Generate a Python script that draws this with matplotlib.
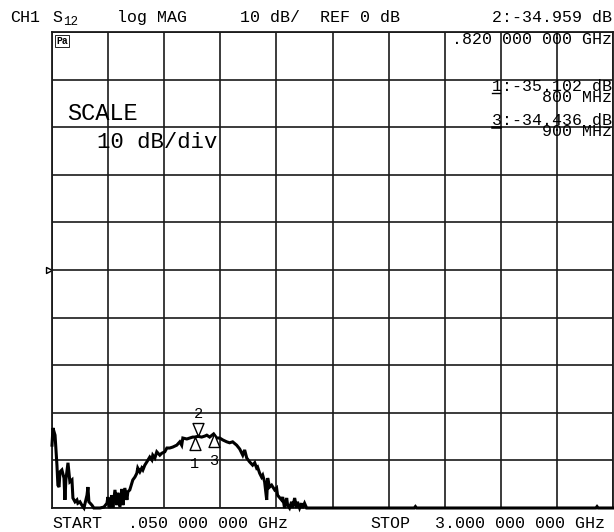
import numpy as np
import matplotlib
matplotlib.use("Agg")
import matplotlib.pyplot as plt
from matplotlib.path import Path
from matplotlib.lines import Line2D
from matplotlib.transforms import blended_transform_factory

plt.rcParams['font.family'] = ['Liberation Mono', 'DejaVu Sans Mono']

# S12 trace (MHz, dB); values below the screen are clipped at -50 dB
freq_mhz = [50, 55, 66, 76, 81, 87, 92, 102, 113, 118, 123, 134, 144, 155, 160, 171,
            181, 186, 197, 207, 218, 234, 239, 244, 260, 270, 302, 323, 339, 344, 354,
            365, 370, 381, 391, 396, 407, 417, 423, 433, 444, 449, 459, 470, 475, 486,
            496, 501, 512, 522, 528, 538, 549, 564, 575, 580, 591, 601, 617, 627, 643,
            654, 669, 685, 706, 722, 732, 738, 759, 774, 790, 800, 811, 820, 837, 853,
            864, 879, 900, 916, 932, 948, 969, 984, 1000, 1021, 1037, 1053, 1063, 1074,
            1089, 1105, 1116, 1126, 1131, 1142, 1152, 1158, 1168, 1179, 1184, 1194, 1205,
            1221, 1231, 1236, 1257, 1263, 1273, 1284, 1289, 1299, 1310, 1315, 1326, 1336,
            1341, 1352, 1362, 1367, 1378, 1389, 1500, 1955, 1961, 1967, 2910, 2916, 2922,
            3000]
s12_db = [-36.8, -33.2, -34.7, -41.0, -45.2, -45.6, -42.4, -42.0, -43.7, -48.3, -44.1,
          -40.5, -44.5, -44.1, -47.9, -48.7, -48.3, -49.0, -48.7, -49.4, -55, -47.3,
          -45.6, -48.7, -49.4, -55, -55, -49.8, -49.0, -47.7, -50.5, -47.3, -50.5, -46.2,
          -49.4, -46.8, -49.8, -46.0, -49.4, -45.8, -48.3, -46.6, -46.2, -44.8, -44.1,
          -43.5, -42.7, -41.6, -42.4, -41.6, -42.0, -41.0, -40.3, -39.3, -39.9, -38.9,
          -39.5, -38.2, -38.9, -38.5, -38.2, -37.4, -37.4, -37.2, -36.8, -36.1, -36.8,
          -35.3, -35.5, -35.3, -35.1, -35.1, -35.0, -34.96, -35.1, -34.9, -34.7, -35.1,
          -34.44, -35.3, -35.3, -35.7, -36.1, -36.3, -36.1, -36.8, -37.6, -38.9, -37.8,
          -39.5, -40.3, -41.0, -40.5, -41.6, -41.4, -42.7, -43.5, -43.1, -44.5, -48.3,
          -43.7, -45.6, -45.2, -46.2, -45.8, -47.3, -48.3, -47.7, -55, -47.9, -49.4,
          -50.5, -48.7, -55, -47.9, -50.5, -48.7, -55, -49.0, -55, -49.0, -55, -55,
          -55, -49.7, -55, -55, -49.7, -55, -55]

# markers: number, frequency (MHz), value (dB), pointing
marker_ids = ["1", "2", "3"]
marker_freq = [800, 820, 900]
marker_db = [-35.102, -34.959, -34.436]
marker_up = [True, False, True]

start_mhz, stop_mhz = 50, 3000
ref_db, scale_db = 0, 10

W, H = 614, 532
fig = plt.figure(figsize=(W / 100, H / 100), dpi=100)
ax = fig.add_axes([52 / W, 24 / H, 561 / W, 476 / H])

ax.set_xlim(start_mhz, stop_mhz)
ax.set_ylim(ref_db - 5 * scale_db, ref_db + 5 * scale_db)
ax.set_xticks(np.linspace(start_mhz, stop_mhz, 11))
ax.set_yticks(np.arange(ref_db - 5 * scale_db, ref_db + 5 * scale_db + 1, scale_db))
ax.tick_params(length=0, labelbottom=False, labelleft=False)
ax.grid(True, color="#1a1a1a", lw=1.2)
for sp in ax.spines.values():
    sp.set_color("#1a1a1a")
    sp.set_linewidth(1.3)

y = np.clip(s12_db, -50, 50)
ax.plot(freq_mhz, y, color="black", lw=2.2, solid_joinstyle="miter", clip_on=False, zorder=3)

# marker triangles with the tip on the trace
up_tri = Path([(0, 0), (-0.42, -1), (0.42, -1), (0, 0)], closed=True)
down_tri = Path([(0, 0), (-0.42, 1), (0.42, 1), (0, 0)], closed=True)
for mid, f, v, up in zip(marker_ids, marker_freq, marker_db, marker_up):
    ax.plot([f], [v], marker=up_tri if up else down_tri, ms=18.7, mfc="white",
            mec="black", mew=1.0, zorder=5)
    dy = -27 if up else 22
    ax.annotate(mid, (f, v), xytext=(0, dy * 0.72), textcoords="offset points",
                ha="center", va="center", fontsize=11, zorder=6)

# reference position arrow on the left edge
ref_tri = Path([(0, 0), (-1, 0.5), (-1, -0.5), (0, 0)], closed=True)
tr = blended_transform_factory(ax.transAxes, ax.transData)
ax.plot([0], [ref_db], marker=ref_tri, ms=8.6, mfc="white", mec="black", mew=1.0,
        transform=tr, clip_on=False)


def txt(px, py, s, size=12, ha="left", **kw):
    fig.text(px / W, 1 - py / H, s, fontsize=size, ha=ha, va="baseline", **kw)


def underline(x0, x1, py, lw=1.0):
    fig.add_artist(Line2D([x0 / W, x1 / W], [1 - py / H, 1 - py / H],
                          color="black", lw=lw))


# header
txt(10, 22, "CH1")
txt(52, 22, "S")
txt(63, 25, "12", size=9)
txt(117, 22, "log MAG")
txt(240, 22, "10 dB/")
txt(320, 22, "REF 0 dB")
txt(612, 22, "2:-34.959 dB", ha="right")
txt(612, 44, ".820 000 000 GHz", ha="right")
txt(56, 44, "Pa", size=7, weight="bold",
    bbox=dict(boxstyle="square,pad=0.1", fc="white", ec="black", lw=0.6))

# marker readouts (baseline given for the second line)
txt(612, 102, "1:-35.102 dB\n800 MHz", ha="right", multialignment="right",
    linespacing=0.68)
underline(492, 500, 93)
txt(612, 136, "3:-34.436 dB\n900 MHz", ha="right", multialignment="right",
    linespacing=0.68)
underline(492, 500, 127, lw=1.8)

# scale annotation
txt(67, 120, "SCALE", size=17)
txt(97, 148, "10 dB/div", size=16)

# footer
txt(52, 528, "START")
txt(128, 528, ".050 000 000 GHz")
txt(370, 528, "STOP")
txt(435, 528, "3.000 000 000 GHz")

fig.savefig("out.png", dpi=100, facecolor="white")
